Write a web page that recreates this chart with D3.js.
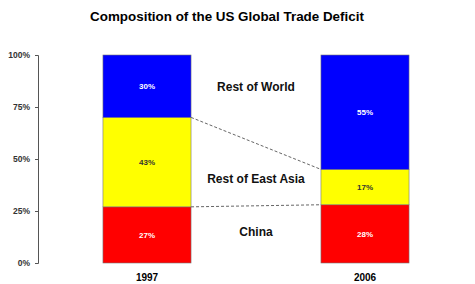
<!DOCTYPE html>
<html>
<head>
<meta charset="utf-8">
<script src="https://cdn.jsdelivr.net/npm/d3@7"></script>
<style>
  body { margin: 0; background: #fff; }
  text { font-family: Arial, "Liberation Sans", sans-serif; }
</style>
</head>
<body>
<div id="chart"></div>
<script>
// data
const years = ["1997", "2006"];
const regions = ["China", "Rest of East Asia", "Rest of World"];
const china = [27, 28];
const restEastAsia = [43, 17];
const restWorld = [30, 55];
const yTicks = [0, 25, 50, 75, 100];
const colors = ["#ff0000", "#ffff00", "#0000ff"];
const labelColors = ["#fff", "#333", "#fff"];

const W = 475, H = 284;
const svg = d3.select("#chart").append("svg").attr("width", W).attr("height", H);

const y = d3.scaleLinear().domain([0, 100]).range([263, 55]);
const x = d3.scaleBand().domain(years).range([38, 474]).paddingInner(0.596).paddingOuter(0.298);

svg.append("text").attr("x", 227).attr("y", 21).attr("text-anchor", "middle")
  .attr("font-size", 13.4).attr("font-weight", "bold").text("Composition of the US Global Trade Deficit");

// y axis
const yAxis = d3.axisLeft(y).tickValues(yTicks).tickFormat(d => d + "%").tickSize(3).tickPadding(5);
const ga = svg.append("g").attr("transform", "translate(38,0)").call(yAxis);
ga.select(".domain").attr("stroke", "#555");
ga.selectAll(".tick line").attr("stroke", "#555");
ga.selectAll(".tick text").attr("font-size", 8.5).attr("font-weight", "bold").attr("fill", "#333");

// stack
const rows = years.map((yr, i) => ({ year: yr, China: china[i], "Rest of East Asia": restEastAsia[i], "Rest of World": restWorld[i] }));
const series = d3.stack().keys(regions)(rows);

// connector lines
[0, 1].forEach(k => {
  const s = series[k];
  svg.append("line")
    .attr("x1", x(years[0]) + x.bandwidth()).attr("y1", y(s[0][1]))
    .attr("x2", x(years[1])).attr("y2", y(s[1][1]))
    .attr("stroke", "#666").attr("stroke-width", 1).attr("stroke-dasharray", "3,2");
});

series.forEach((s, k) => {
  const g = svg.append("g");
  g.selectAll("rect").data(s).enter().append("rect")
    .attr("x", d => x(d.data.year))
    .attr("y", d => y(d[1]))
    .attr("width", x.bandwidth())
    .attr("height", d => y(d[0]) - y(d[1]))
    .attr("fill", colors[k]).attr("stroke", "#777").attr("stroke-width", 0.6);
  g.selectAll("text").data(s).enter().append("text")
    .attr("x", d => x(d.data.year) + x.bandwidth() / 2)
    .attr("y", d => y((d[0] + d[1]) / 2) + 3)
    .attr("text-anchor", "middle").attr("font-size", 8).attr("font-weight", "bold")
    .attr("fill", labelColors[k])
    .text(d => (d[1] - d[0]) + "%");
});

// region labels between bars
const mid = (x(years[0]) + x.bandwidth() + x(years[1])) / 2;
const labelY = [232, 179, 87];
regions.forEach((r, k) => {
  svg.append("text").attr("x", mid).attr("y", labelY[k] + 4).attr("text-anchor", "middle")
    .attr("font-size", 12).attr("font-weight", "bold").attr("fill", "#111").text(r);
});

// category labels
years.forEach(yr => {
  svg.append("text").attr("x", x(yr) + x.bandwidth() / 2).attr("y", 281)
    .attr("text-anchor", "middle").attr("font-size", 10).attr("font-weight", "bold").text(yr);
});
</script>
</body>
</html>
